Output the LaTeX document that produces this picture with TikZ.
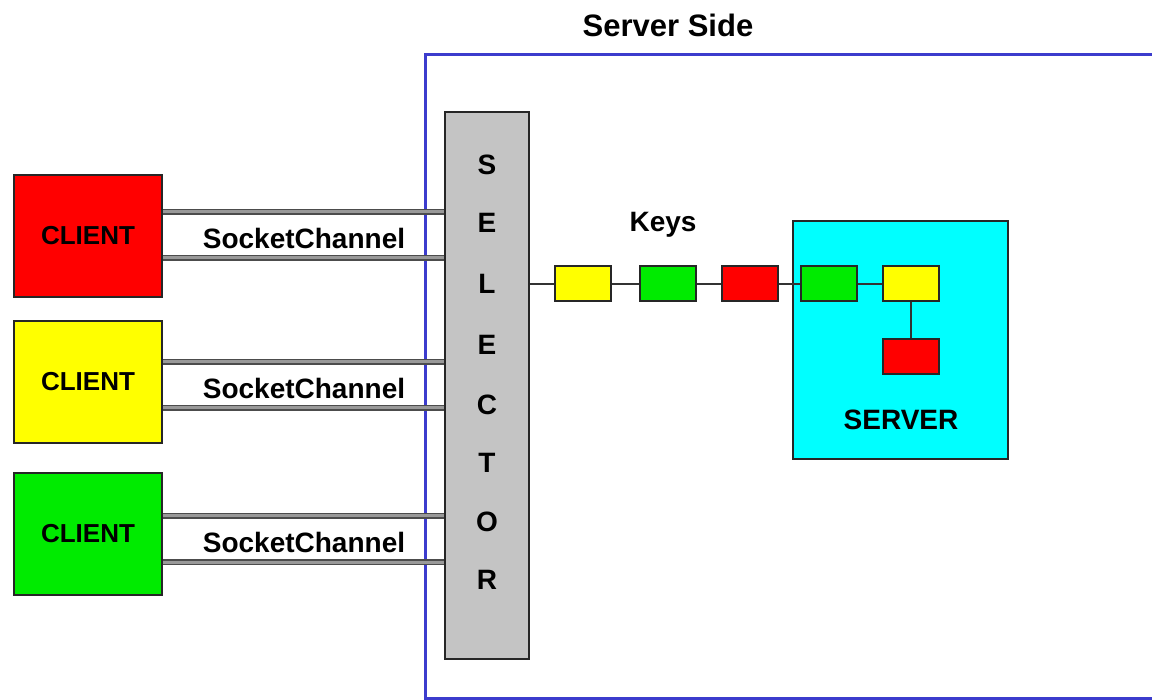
\documentclass[tikz,border=0pt]{standalone}
\usepackage{fontspec}
\setmainfont{Liberation Sans}
\usetikzlibrary{positioning}
\definecolor{frameblue}{RGB}{60,60,205}
\definecolor{selgray}{RGB}{196,196,196}
\definecolor{keyred}{RGB}{255,0,0}
\definecolor{keyyellow}{RGB}{255,255,0}
\definecolor{keygreen}{RGB}{0,235,0}
\definecolor{srvcyan}{RGB}{0,255,255}
\tikzset{
	box/.style={draw=black!85,line width=2pt,inner sep=0pt},
	client/.style={box,minimum width=148pt,minimum height=122pt,font=\fontsize{26}{28}\selectfont\bfseries},
	key/.style={box,minimum width=56pt,minimum height=35pt},
	channel/.style={draw=black!70,line width=1.8pt,double=black!40,double distance=3pt},
	lbl/.style={font=\fontsize{28}{30}\selectfont\bfseries},
	link/.style={draw=black!80,line width=2.2pt}
}
\begin{document}
\begin{tikzpicture}[x=1pt,y=-1pt]
	\useasboundingbox (0,0) rectangle (1152,700);
	\node[lbl,font=\fontsize{31}{33}\selectfont\bfseries] (title) at (668,25) {Server Side};
	\draw[frameblue,line width=3pt] (425,55) rectangle (1175,698);
	% selector column
	\node[box,fill=selgray,minimum width=84pt,minimum height=547pt] (sel) at (487,385.5) {};
	\foreach \l/\y [count=\i] in {S/165,E/223,L/284,E/345,C/405,T/463,O/522,R/580}{
		\node[lbl] (sel\i) at (487,\y) {\l};
	}
	% clients and their channels
	\foreach \c/\y/\m [count=\i] in {keyred/236/235,keyyellow/382/385,keygreen/534/539}{
		\node[client,fill=\c] (cl\i) at (88,\y) {CLIENT};
		\coordinate (up\i) at (cl\i.east |- 0,{\m-23});
		\coordinate (dn\i) at (cl\i.east |- 0,{\m+23});
		\draw[channel] (up\i) -- (up\i -| sel.west) (dn\i) -- (dn\i -| sel.west);
		\node[lbl] (ch\i) at (304,{\m+3}) {SocketChannel};
	}
	% server
	\node[box,fill=srvcyan,minimum width=215pt,minimum height=238pt] (srv) at (900.5,340) {};
	\node[lbl] (srvlbl) at (901,420) {SERVER};
	% keys
	\node[lbl] (keys) at (663,225) {Keys};
	\foreach \c/\x [count=\i] in {keyyellow/583,keygreen/667.5,keyred/749.5,keygreen/829,keyyellow/911}{
		\node[key,fill=\c] (k\i) at (\x,284) {};
	}
	\node[key,fill=keyred] (k6) at (911,357) {};
	\draw[link] (sel.east |- k1) -- (k1) (k1) -- (k2) (k2) -- (k3) (k3) -- (k4) (k4) -- (k5) (k5) -- (k6);
\end{tikzpicture}
\end{document}
